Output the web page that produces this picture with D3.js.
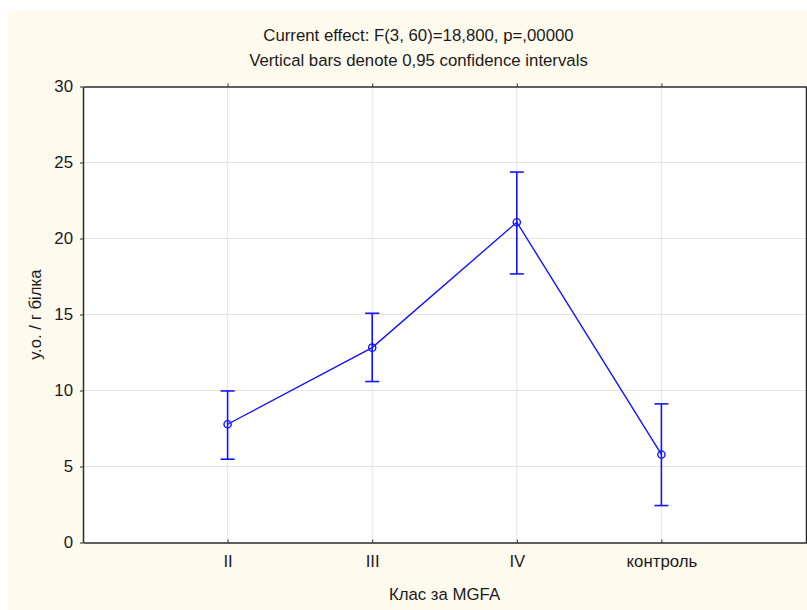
<!DOCTYPE html>
<html>
<head>
<meta charset="utf-8">
<script src="https://cdn.jsdelivr.net/npm/d3@7"></script>
<style>
  html, body { margin: 0; padding: 0; background: #ffffff; }
  svg { display: block; }
  text { font-family: "Liberation Sans", Arial, sans-serif; fill: #1a1a1a; }
</style>
</head>
<body>
<svg id="chart" width="807" height="610"></svg>
<script>
// Group means with 95% confidence limits
const categories = ["II", "III", "IV", "контроль"];
const means = [7.78, 12.82, 21.07, 5.79];
const lower = [5.48, 10.59, 17.67, 2.43];
const upper = [9.97, 15.08, 24.37, 9.12];
const yTicks = [0, 5, 10, 15, 20, 25, 30];

const titleLines = [
  "Current effect: F(3, 60)=18,800, p=,00000",
  "Vertical bars denote 0,95 confidence intervals"
];
const xTitle = "Клас за MGFA";
const yTitle = "у.о. / г білка";

const W = 807, H = 610;
const margin = { left: 83, top: 86.5, right: 1, bottom: 67.5 };
const pw = W - margin.left - margin.right;
const ph = H - margin.top - margin.bottom;
const fs = "16.8px";

const svg = d3.select("#chart");

// panel backgrounds
svg.append("rect").attr("x", 8).attr("y", 11).attr("width", W - 8).attr("height", H - 11)
  .attr("fill", "#fffaee");

const g = svg.append("g").attr("transform", `translate(${margin.left},${margin.top})`);
g.append("rect").attr("width", pw).attr("height", ph).attr("fill", "#ffffff");

const x = d3.scalePoint().domain(categories).range([0, pw]).padding(1);
const y = d3.scaleLinear().domain([0, 30]).range([ph, 0]);

// grid
g.append("g").selectAll("line").data(yTicks.slice(1, -1)).join("line")
  .attr("x1", 0).attr("x2", pw)
  .attr("y1", d => y(d)).attr("y2", d => y(d))
  .attr("stroke", "#e4e4e4").attr("stroke-width", 1);
g.append("g").selectAll("line").data(categories).join("line")
  .attr("x1", d => x(d)).attr("x2", d => x(d))
  .attr("y1", 0).attr("y2", ph)
  .attr("stroke", "#e4e4e4").attr("stroke-width", 1);

// axes
const axisStyle = sel => {
  sel.select(".domain").attr("stroke", "#2b2b2b").attr("stroke-width", 1.5);
  sel.selectAll(".tick line").attr("stroke", "#2b2b2b").attr("stroke-width", 1);
  sel.selectAll(".tick text").style("font-size", fs).attr("fill", "#1a1a1a");
};

g.append("g").attr("transform", `translate(0,${ph})`)
  .call(d3.axisBottom(x).tickSizeInner(-3).tickSizeOuter(0).tickPadding(13))
  .call(axisStyle);
g.append("g")
  .call(d3.axisLeft(y).tickValues(yTicks).tickSizeInner(3).tickSizeOuter(0).tickPadding(7))
  .call(axisStyle);
g.append("g")
  .call(d3.axisTop(x).tickSizeInner(3).tickSizeOuter(0).tickFormat(""))
  .call(axisStyle);
g.append("g").attr("transform", `translate(${pw},0)`)
  .call(d3.axisRight(y).tickValues(yTicks).tickSizeInner(3).tickSizeOuter(0).tickFormat(""))
  .call(axisStyle);

// confidence interval whiskers
const blue = "#1414ff";
const ci = g.append("g").attr("stroke", blue).attr("stroke-width", 1.6).attr("fill", "none");
categories.forEach((c, i) => {
  ci.append("line").attr("x1", x(c)).attr("x2", x(c)).attr("y1", y(lower[i])).attr("y2", y(upper[i]));
  ci.append("line").attr("x1", x(c) - 7).attr("x2", x(c) + 7).attr("y1", y(upper[i])).attr("y2", y(upper[i]));
  ci.append("line").attr("x1", x(c) - 7).attr("x2", x(c) + 7).attr("y1", y(lower[i])).attr("y2", y(lower[i]));
});

// mean line and markers
const line = d3.line().x((d, i) => x(categories[i])).y(d => y(d));
g.append("path").datum(means).attr("d", line)
  .attr("fill", "none").attr("stroke", blue).attr("stroke-width", 1.4);
g.append("g").selectAll("circle").data(means).join("circle")
  .attr("cx", (d, i) => x(categories[i])).attr("cy", d => y(d)).attr("r", 3.6)
  .attr("fill", "none").attr("stroke", blue).attr("stroke-width", 1.4);

// titles
svg.append("g").selectAll("text").data(titleLines).join("text")
  .attr("x", margin.left + pw / 2 - 26).attr("y", (d, i) => 41 + i * 25)
  .attr("text-anchor", "middle").style("font-size", fs).text(d => d);

svg.append("text").attr("x", margin.left + pw / 2).attr("y", 600)
  .attr("text-anchor", "middle").style("font-size", fs).text(xTitle);

svg.append("text")
  .attr("transform", `translate(41,${margin.top + ph / 2}) rotate(-90)`)
  .attr("text-anchor", "middle").style("font-size", fs).text(yTitle);
</script>
</body>
</html>
